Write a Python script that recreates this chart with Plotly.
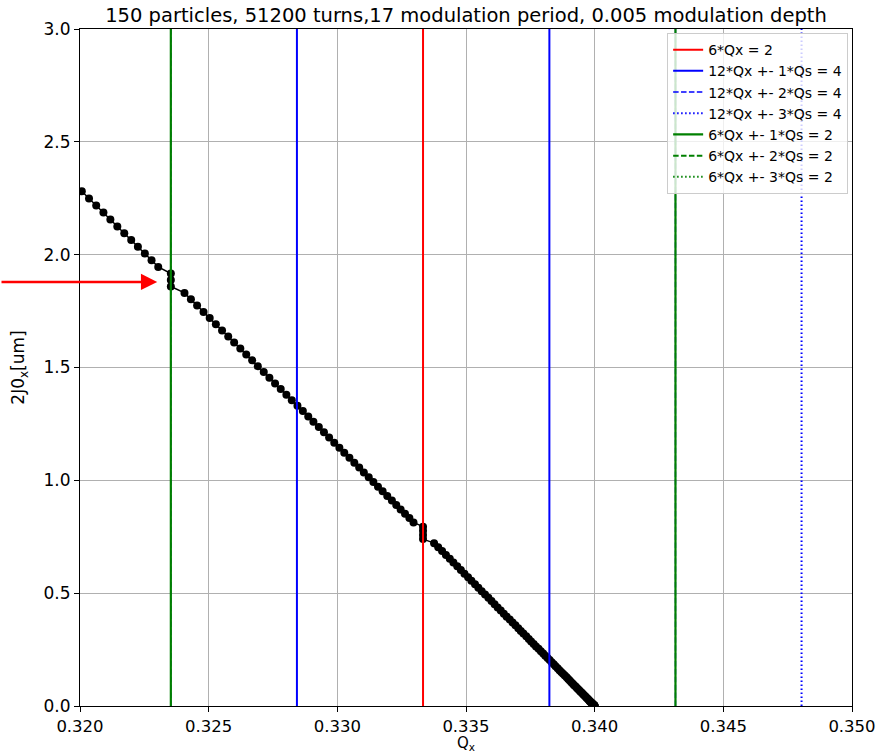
import plotly.graph_objects as go

# Initial action 2J0x [um] of each particle (sorted by amplitude)
action_2j = [
    0.0001, 0.0004, 0.0010, 0.0018, 0.0028, 0.0040, 0.0054, 0.0070, 0.0089, 0.0110,
    0.0133, 0.0158, 0.0186, 0.0216, 0.0248, 0.0282, 0.0318, 0.0356, 0.0397, 0.0440,
    0.0485, 0.0532, 0.0582, 0.0634, 0.0688, 0.0744, 0.0802, 0.0862, 0.0925, 0.0990,
    0.1057, 0.1126, 0.1198, 0.1272, 0.1348, 0.1426, 0.1506, 0.1588, 0.1673, 0.1760,
    0.1849, 0.1940, 0.2034, 0.2130, 0.2228, 0.2328, 0.2430, 0.2534, 0.2641, 0.2750,
    0.2861, 0.2974, 0.3090, 0.3208, 0.3328, 0.3450, 0.3574, 0.3700, 0.3829, 0.3960,
    0.4093, 0.4228, 0.4366, 0.4506, 0.4648, 0.4792, 0.4938, 0.5086, 0.5237, 0.5390,
    0.5545, 0.5702, 0.5862, 0.6024, 0.6188, 0.6354, 0.6522, 0.6692, 0.6865, 0.7040,
    0.7217, 0.7396, 0.7578, 0.7762, 0.7948, 0.8136, 0.8326, 0.8518, 0.8713, 0.8910,
    0.9109, 0.9310, 0.9514, 0.9720, 0.9928, 1.0138, 1.0350, 1.0564, 1.0781, 1.1000,
    1.1221, 1.1444, 1.1670, 1.1898, 1.2128, 1.2360, 1.2594, 1.2830, 1.3069, 1.3310,
    1.3553, 1.3798, 1.4046, 1.4296, 1.4548, 1.4802, 1.5058, 1.5316, 1.5577, 1.5840,
    1.6105, 1.6372, 1.6642, 1.6914, 1.7188, 1.7464, 1.7742, 1.8022, 1.8305, 1.8590,
    1.8877, 1.9166, 1.9458, 1.9752, 2.0048, 2.0346, 2.0646, 2.0948, 2.1253, 2.1560,
    2.1869, 2.2180, 2.2494, 2.2810, 2.3128, 2.3448, 2.3770, 2.4094, 2.4421, 2.4750,
]

# Measured horizontal tune Qx of each particle
tune_qx = [
    0.34000, 0.34000, 0.33999, 0.33998, 0.33998, 0.33997, 0.33995, 0.33994, 0.33992, 0.33991,
    0.33989, 0.33986, 0.33984, 0.33981, 0.33979, 0.33976, 0.33973, 0.33969, 0.33966, 0.33962,
    0.33958, 0.33954, 0.33950, 0.33945, 0.33941, 0.33936, 0.33931, 0.33926, 0.33920, 0.33915,
    0.33909, 0.33903, 0.33897, 0.33891, 0.33884, 0.33877, 0.33870, 0.33863, 0.33856, 0.33848,
    0.33841, 0.33833, 0.33825, 0.33817, 0.33808, 0.33800, 0.33791, 0.33782, 0.33772, 0.33763,
    0.33753, 0.33744, 0.33734, 0.33723, 0.33713, 0.33703, 0.33692, 0.33681, 0.33670, 0.33658,
    0.33647, 0.33635, 0.33623, 0.33611, 0.33599, 0.33587, 0.33574, 0.33561, 0.33548, 0.33535,
    0.33521, 0.33508, 0.33494, 0.33480, 0.33466, 0.33451, 0.33437, 0.33422, 0.33407, 0.33392,
    0.33376, 0.33333, 0.33333, 0.33333, 0.33333, 0.33296, 0.33280, 0.33263, 0.33246, 0.33229,
    0.33212, 0.33194, 0.33176, 0.33158, 0.33140, 0.33122, 0.33103, 0.33085, 0.33066, 0.33047,
    0.33027, 0.33008, 0.32988, 0.32968, 0.32948, 0.32928, 0.32907, 0.32887, 0.32866, 0.32845,
    0.32823, 0.32802, 0.32780, 0.32758, 0.32736, 0.32714, 0.32691, 0.32669, 0.32646, 0.32623,
    0.32599, 0.32576, 0.32552, 0.32528, 0.32504, 0.32480, 0.32455, 0.32431, 0.32406, 0.32353,
    0.32353, 0.32353, 0.32304, 0.32278, 0.32252, 0.32225, 0.32199, 0.32172, 0.32145, 0.32118,
    0.32091, 0.32063, 0.32035, 0.32007, 0.31979, 0.31950, 0.31922, 0.31893, 0.31864, 0.31835,
]

# Resonance tunes (Qs = 1/17)
res_6 = [0.33333]
res_12_1 = [0.32843, 0.33824]
res_12_2 = [0.32353, 0.34314]
res_12_3 = [0.31863, 0.34804]
res_6_1 = [0.32353, 0.34314]
res_6_2 = [0.31373, 0.35294]
res_6_3 = [0.30392, 0.36275]

# (label, tunes, colour, dash, width)
resonances = [
    ("6*Qx = 2", res_6, "#ff0000", "solid", 2),
    ("12*Qx +- 1*Qs = 4", res_12_1, "#0000ff", "solid", 2),
    ("12*Qx +- 2*Qs = 4", res_12_2, "#0000ff", "5.5px,2.4px", 1.4),
    ("12*Qx +- 3*Qs = 4", res_12_3, "#0000ff", "1.5px,2.5px", 2),
    ("6*Qx +- 1*Qs = 2", res_6_1, "#008000", "solid", 2.2),
    ("6*Qx +- 2*Qs = 2", res_6_2, "#008000", "5.5px,2.4px", 2),
    ("6*Qx +- 3*Qs = 2", res_6_3, "#008000", "1.5px,2.5px", 2),
]

x_range = [0.320, 0.350]
y_range = [0.0, 3.0]
arrow_tip = (0.3230, 1.879)

FONT = "DejaVu Sans"

fig = go.Figure()

fig.add_trace(go.Scatter(
    x=tune_qx, y=action_2j, mode="lines+markers",
    line=dict(color="black", width=1.5),
    marker=dict(color="black", size=8),
    showlegend=False,
))

for name, qs, color, dash, width in resonances:
    xs, ys = [], []
    for q in qs:
        xs += [q, q, None]
        ys += [y_range[0], y_range[1], None]
    fig.add_trace(go.Scatter(
        x=xs, y=ys, mode="lines", name=name,
        line=dict(color=color, width=width, dash=dash),
    ))

fig.add_annotation(
    x=arrow_tip[0], y=arrow_tip[1], xref="x", yref="y",
    ax=-158, ay=0, axref="pixel", ayref="pixel",
    text="", showarrow=True, arrowhead=2, arrowsize=1.3,
    arrowwidth=2.5, arrowcolor="#ff0000", standoff=0,
)

# x-axis label, set just below the tick labels
fig.add_annotation(
    x=0.5, y=-0.0385, xref="paper", yref="paper",
    xanchor="center", yanchor="top", showarrow=False,
    text="Q<sub>x</sub>", font=dict(family=FONT, size=15, color="black"),
)

fig.update_layout(
    width=881, height=752,
    margin=dict(l=80, r=29, t=29, b=46),
    paper_bgcolor="white", plot_bgcolor="white",
    font=dict(family=FONT, size=17, color="black"),
    title=dict(
        text="150 particles, 51200 turns,17 modulation period, 0.005 modulation depth",
        x=0.5, xref="paper", y=1 - 15 / 752, yref="container",
        xanchor="center", yanchor="middle",
        font=dict(family=FONT, size=19.5, color="black"),
    ),
    legend=dict(
        x=0.995, y=0.994, xanchor="right", yanchor="top",
        bgcolor="rgba(255,255,255,0.8)", bordercolor="#cccccc", borderwidth=1,
        font=dict(family=FONT, size=14, color="black"),
        tracegroupgap=0,
    ),
    xaxis=dict(
        range=x_range, tickmode="linear", tick0=0.320, dtick=0.005,
        tickformat=".3f", ticks="outside", ticklen=5, tickcolor="black",
        tickfont=dict(size=16.5),
        showgrid=True, gridcolor="#b0b0b0", gridwidth=1,
        showline=True, linecolor="black", linewidth=1, mirror=True,
        zeroline=False, automargin=False,
    ),
    yaxis=dict(
        range=y_range, tickmode="linear", tick0=0.0, dtick=0.5,
        tickformat=".1f", ticks="outside", ticklen=5, tickcolor="black",
        showgrid=True, gridcolor="#b0b0b0", gridwidth=1,
        showline=True, linecolor="black", linewidth=1, mirror=True,
        zeroline=False, automargin=False,
        title=dict(text="2J0<sub>x</sub>[um]", standoff=14, font=dict(size=17)),
    ),
)

fig.write_html("out.html")
